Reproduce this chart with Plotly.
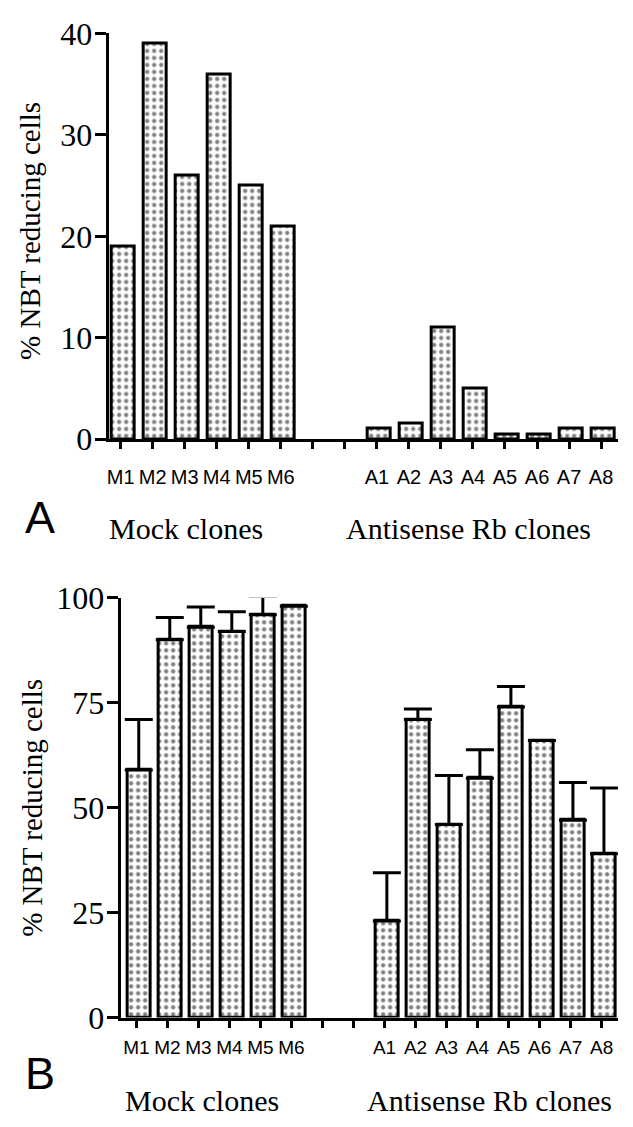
import plotly.graph_objects as go

W, H = 633, 1127

# ---- data ----
positions = list(range(16))
tick_text = ["M1", "M2", "M3", "M4", "M5", "M6", "", "",
             "A1", "A2", "A3", "A4", "A5", "A6", "A7", "A8"]
mock_pos = [0, 1, 2, 3, 4, 5]
anti_pos = [8, 9, 10, 11, 12, 13, 14, 15]

a_mock = [19, 39, 26, 36, 25, 21]
a_anti = [1, 1.5, 11, 5, 0.5, 0.5, 1, 1]

b_mock = [59, 90, 93, 92, 96, 98]
b_mock_err = [12, 5.3, 4.8, 4.7, 4.3, None]
b_anti = [23, 71, 46, 57, 74, 66, 47, 39]
b_anti_err = [11.5, 2.5, 11.7, 6.8, 4.9, None, 9, 15.7]

yticks_a = [0, 10, 20, 30, 40]
yticks_b = [0, 25, 50, 75, 100]

SERIF = "Liberation Serif, Times New Roman, serif"
SANS = "Liberation Sans, Arial, sans-serif"

def px_x(p):
    return p / W

def px_y(p):
    return 1 - p / H

bar_style = dict(
    color="white",
    line=dict(color="black", width=3),
    pattern=dict(shape=".", fgcolor="black", bgcolor="white", size=7, solidity=0.3),
)

fig = go.Figure()

# Panel A
fig.add_trace(go.Bar(x=mock_pos + anti_pos, y=a_mock + a_anti, width=0.72, offset=-0.29,
                     marker=bar_style, xaxis="x", yaxis="y", showlegend=False, cliponaxis=False))

# Panel B
err_all = b_mock_err + b_anti_err
fig.add_trace(go.Bar(x=mock_pos + anti_pos, y=b_mock + b_anti, width=0.75, offset=-0.3,
                     marker=bar_style, xaxis="x2", yaxis="y2", showlegend=False, cliponaxis=False,
                     error_y=dict(type="data", symmetric=False, array=err_all,
                                  arrayminus=[0 if e is not None else None for e in err_all],
                                  color="black", thickness=3, width=14)))

axis_common = dict(showgrid=False, zeroline=False, showline=True, linecolor="black",
                   linewidth=3, ticks="outside", tickcolor="black", tickwidth=2.5)

fig.update_layout(
    width=W, height=H,
    margin=dict(l=0, r=0, t=0, b=0),
    paper_bgcolor="white", plot_bgcolor="white",
    bargap=0,
    xaxis=dict(domain=[px_x(107), px_x(618)], range=[-0.375, 15.53], anchor="y",
               tickvals=positions, ticktext=tick_text, ticklen=7,
               tickfont=dict(family=SANS, size=20, color="black"),
               ticklabelstandoff=11, **axis_common),
    yaxis=dict(domain=[px_y(435), px_y(16)], range=[0, 40], anchor="x",
               tickvals=yticks_a, ticklen=11, ticklabelstandoff=-4,
               tickfont=dict(family=SERIF, size=32, color="black"), **axis_common),
    xaxis2=dict(domain=[px_x(119), px_x(618)], range=[-0.51, 15.53], anchor="y2",
                tickvals=positions, ticktext=tick_text, ticklen=7,
                tickfont=dict(family=SANS, size=19, color="black"),
                ticklabelstandoff=4, **axis_common),
    yaxis2=dict(domain=[px_y(1032.5), px_y(599)], range=[0, 100], anchor="x2",
                tickvals=yticks_b, ticklen=11, ticklabelstandoff=-4,
                tickfont=dict(family=SERIF, size=32, color="black"), **axis_common),
)

def ann(text, x, y, size, family, angle=0):
    fig.add_annotation(text=text, x=px_x(x), y=px_y(y), xref="paper", yref="paper",
                       showarrow=False, xanchor="center", yanchor="middle", textangle=angle,
                       font=dict(family=family, size=size, color="black"))

ann("% NBT reducing cells", 28, 220, 29, SERIF, -90)
ann("% NBT reducing cells", 30, 816, 29, SERIF, -90)
ann("A", 38, 516, 45, SANS)
ann("B", 38, 1090, 45, SANS)
ann("Mock clones", 185, 527, 30, SERIF)
ann("Antisense Rb clones", 468, 527, 30, SERIF)
ann("Mock clones", 201, 1118, 30, SERIF)
ann("Antisense Rb clones", 489, 1118, 30, SERIF)

fig.write_html("out.html")
